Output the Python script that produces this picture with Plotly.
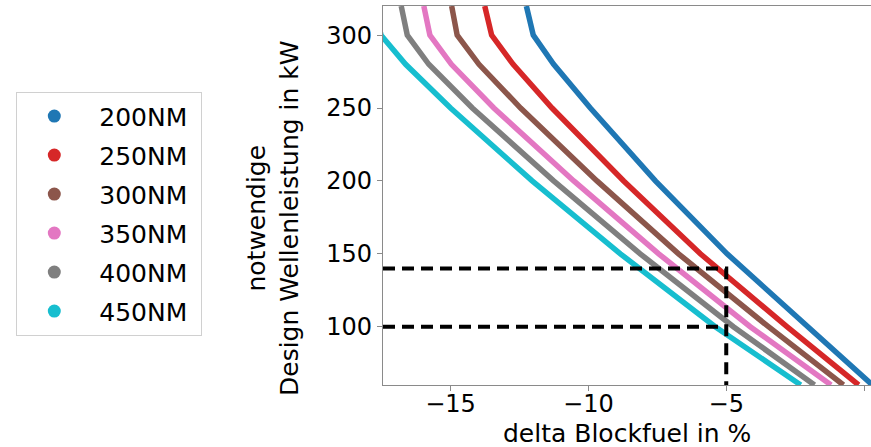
import plotly.graph_objects as go

# Design shaft power (kW) at which each curve was sampled
power_kw = [60, 100, 150, 200, 250, 280, 300, 320]

# Delta block fuel (%) per mission range
nm200 = [0.3, -2.02, -4.97, -7.57, -9.93, -11.26, -12.0, -12.25]
nm250 = [-0.2, -2.8, -5.94, -8.72, -11.32, -12.73, -13.51, -13.76]
nm300 = [-0.75, -3.47, -6.73, -9.69, -12.46, -13.97, -14.76, -14.96]
nm350 = [-1.2, -4.13, -7.45, -10.53, -13.43, -14.97, -15.75, -15.97]
nm400 = [-1.8, -4.74, -8.12, -11.26, -14.21, -15.79, -16.57, -16.79]
nm450 = [-2.3, -5.4, -8.84, -12.04, -15.0, -16.63, -17.52, -17.78]

range_labels = ["200NM", "250NM", "300NM", "350NM", "400NM", "450NM"]
series = [nm200, nm250, nm300, nm350, nm400, nm450]
colors = ["#1f77b4", "#d62728", "#8c564b", "#e377c2", "#7f7f7f", "#17becf"]

# Reference markers
ref_fuel = -5
ref_power_low = 100
ref_power_high = 140

X_MIN, X_MAX = -17.45, 0.25
Y_MIN, Y_MAX = 60, 320

W, H = 871, 447
L, R, T, B = 383, 0, 6, 62
PW, PH = W - L - R, H - T - B


def px_x(px):
    return (px - L) / PW


def px_y(py):
    return (H - B - py) / PH


FONT = "DejaVu Sans"
AXIS_GRAY = "#8a8a8a"
NBSP = "\u00a0"

fig = go.Figure()

for label, xs, color in zip(range_labels, series, colors):
    fig.add_trace(go.Scatter(
        x=xs, y=power_kw, mode="lines",
        line=dict(color=color, width=5.5),
        showlegend=False, hoverinfo="skip",
    ))

# legend entries drawn as dots, one group each so rows can be spaced
for label, color in zip(range_labels, colors):
    fig.add_trace(go.Scatter(
        x=[None], y=[None], mode="markers",
        name=NBSP + label + NBSP, legendgroup=label,
        marker=dict(color=color, size=13),
    ))

dash_style = dict(color="black", width=4, dash="12px,7px")
fig.add_trace(go.Scatter(
    x=[X_MIN, ref_fuel, ref_fuel], y=[ref_power_high, ref_power_high, Y_MIN],
    mode="lines", line=dash_style, showlegend=False, hoverinfo="skip",
))
fig.add_trace(go.Scatter(
    x=[X_MIN, ref_fuel], y=[ref_power_low, ref_power_low],
    mode="lines", line=dash_style, showlegend=False, hoverinfo="skip",
))

fig.update_layout(
    width=W, height=H,
    margin=dict(l=L, r=R, t=T, b=B, pad=0),
    paper_bgcolor="white", plot_bgcolor="white",
    font=dict(family=FONT, size=25, color="black"),
    xaxis=dict(
        range=[X_MIN, X_MAX],
        tickvals=[-15, -10, -5, 0],
        ticktext=["\u221215", "\u221210", "\u22125", "0"],
        showgrid=False, zeroline=False,
        showline=True, linecolor=AXIS_GRAY, linewidth=1.3, mirror=True,
        ticks="outside", ticklen=5, tickwidth=1.3, tickcolor=AXIS_GRAY,
        tickfont=dict(size=24), ticklabelstandoff=-8,
    ),
    yaxis=dict(
        range=[Y_MIN, Y_MAX],
        tickvals=[100, 150, 200, 250, 300],
        showgrid=False, zeroline=False,
        showline=True, linecolor=AXIS_GRAY, linewidth=1.3,
        ticks="outside", ticklen=5, tickwidth=1.3, tickcolor=AXIS_GRAY,
        tickfont=dict(size=24),
    ),
    legend=dict(
        x=px_x(16), y=px_y(92), xanchor="left", yanchor="top",
        bordercolor="#d0d0d0", borderwidth=1.3, bgcolor="white",
        font=dict(size=25), itemwidth=64, tracegroupgap=3.5,
    ),
    annotations=[
        dict(text="notwendige<br>Design Wellenleistung in kW",
             xref="paper", yref="paper", x=px_x(273), y=px_y(218),
             xanchor="center", yanchor="middle", textangle=-90,
             showarrow=False, font=dict(size=25)),
        dict(text="delta Blockfuel in %",
             xref="paper", yref="paper", x=px_x(627), y=px_y(433),
             xanchor="center", yanchor="middle",
             showarrow=False, font=dict(size=25)),
    ],
)

fig.write_html("out.html")
